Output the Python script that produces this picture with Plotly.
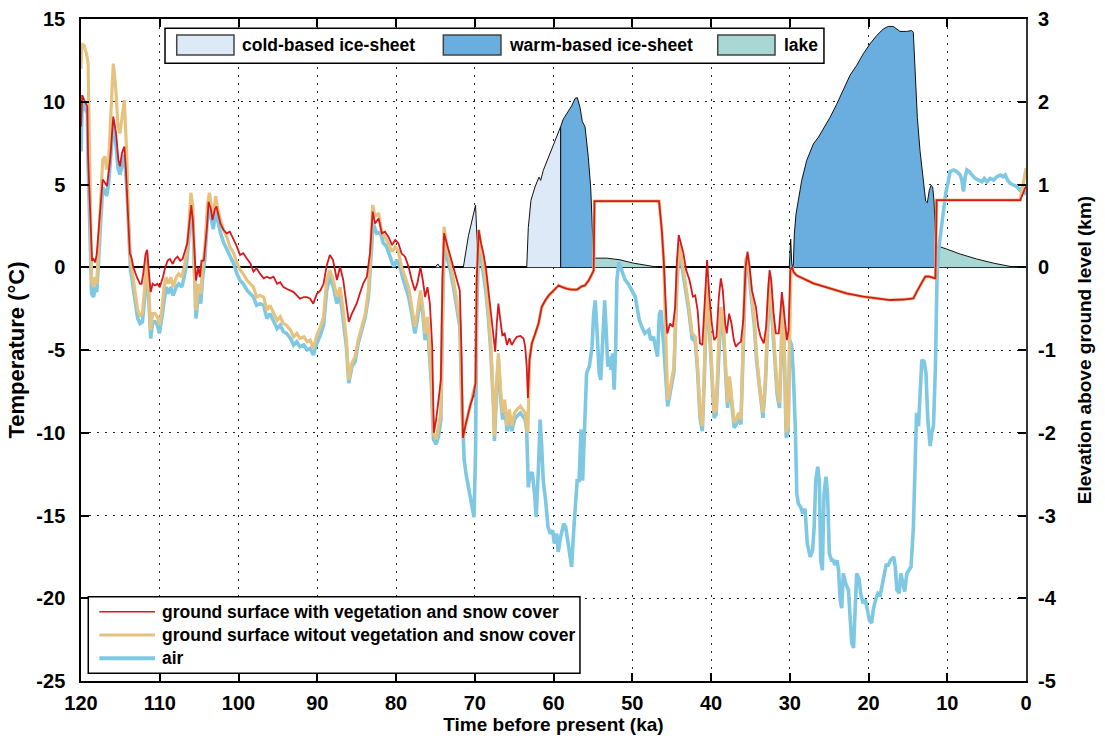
import plotly.graph_objects as go

# ---------------- data ----------------
x_ticks = [0, 10, 20, 30, 40, 50, 60, 70, 80, 90, 100, 110, 120]
temp_ticks = [-25, -20, -15, -10, -5, 0, 5, 10, 15]
temp_tick_text = ["-25", "-20", "-15", "-10", "-5", "0", "5", "10", "15"]
elev_ticks = [-5, -4, -3, -2, -1, 0, 1, 2, 3]
elev_tick_text = ["-5", "-4", "-3", "-2", "-1", "0", "1", "2", "3"]

# ground surface with vegetation and snow cover (ka, degC)
red = [
(120.0, 8.5), (119.85, 10.4), (119.5, 10.0), (119.2, 9.7), (119.1, 6.7), (118.9, 3.7), (118.6, 0.4),
(118.4, 0.5), (118.2, 0.3), (118.0, 0.8), (117.8, 2.05), (117.5, 3.7), (117.25, 5.3), (116.95, 5.1),
(116.7, 4.9), (116.3, 6.5), (115.9, 9.1), (115.55, 8.1), (115.26, 6.5), (115.05, 6.1), (114.8, 6.9),
(114.5, 7.3), (114.3, 5.9), (114.0, 2.85), (113.8, 0.84), (113.6, 0.6), (113.35, 0.0), (112.9, -0.6),
(112.5, -1.0), (112.3, -1.0), (112.1, -0.4), (111.8, 0.8), (111.6, 1.05), (111.4, -0.2), (111.15, -1.5),
(110.9, -1.0), (110.6, -1.1), (110.3, -1.0), (110.0, -1.2), (109.6, -0.6), (109.3, 0.0), (109.0, 0.4),
(108.7, 0.5), (108.35, 0.2), (108.05, 0.5), (107.75, 0.64), (107.4, 0.4), (107.1, 0.5), (106.7, 1.05),
(106.5, 1.45), (106.2, 2.85), (106.0, 3.76), (105.8, 2.85), (105.6, 1.05), (105.4, -0.8), (105.1, 0.0),
(104.9, -0.6), (104.7, 0.4), (104.4, 0.4), (104.0, 2.45), (103.8, 3.96), (103.5, 3.5), (103.3, 2.85),
(103.0, 3.5), (102.8, 3.67), (102.3, 2.65), (101.9, 2.25), (101.5, 2.05), (101.1, 2.15), (100.6, 1.65),
(100.2, 1.25), (99.8, 0.74), (99.4, 0.85), (98.9, 0.5), (98.5, 0.24), (98.1, -0.26), (97.7, -0.06),
(97.25, -0.4), (96.8, -0.67), (96.4, -0.57), (96.0, -0.67), (95.55, -0.57), (95.1, -1.0), (94.7, -0.9),
(94.3, -1.2), (93.9, -1.3), (93.4, -1.4), (93.0, -1.5), (92.6, -1.7), (92.2, -1.9), (91.7, -1.8),
(91.3, -1.8), (90.9, -1.9), (90.5, -2.2), (90.05, -1.6), (89.6, -1.4), (89.2, -1.0), (88.8, 0.1),
(88.4, 0.74), (88.0, 0.44), (87.5, -0.77), (87.1, 0.03), (86.7, -0.77), (86.3, -2.4), (86.0, -3.3),
(85.6, -2.8), (85.0, -2.2), (84.6, -1.6), (84.15, -0.97), (83.7, -0.57), (83.3, 0.84), (82.96, 3.36),
(82.66, 2.65), (82.2, 2.95), (81.8, 2.05), (81.4, 2.15), (80.97, 1.85), (80.5, 1.34), (80.1, 1.65),
(79.7, 1.45), (79.3, 0.84), (78.85, 0.64), (78.4, 0.03), (78.0, -0.77), (77.6, -1.4), (77.3, -1.0),
(76.9, 0.0), (76.6, -0.77), (76.3, -1.8), (76.0, -1.2), (75.7, -2.2), (75.4, -4.8), (75.2, -10.0),
(74.9, -9.2), (74.6, -8.0), (74.3, -6.8), (74.1, -0.77), (73.9, 2.05), (73.55, 1.44), (73.1, 0.64),
(72.7, 0.03), (72.3, -0.77), (71.9, -1.4), (71.7, -4.8), (71.5, -10.3), (71.2, -9.6), (70.9, -9.0),
(70.6, -8.4), (70.2, -7.8), (69.9, -7.0), (69.75, -0.8), (69.5, 2.25), (69.2, 1.44), (68.9, 0.84),
(68.55, -0.17), (68.25, -1.4), (67.95, -2.8), (67.6, -4.4), (67.4, -5.1), (67.2, -3.4), (67.0, -2.2),
(66.8, -3.0), (66.5, -4.1), (66.2, -4.0), (65.9, -4.7), (65.6, -4.3), (65.3, -4.7), (64.95, -4.4),
(64.65, -4.2), (64.2, -4.15), (63.8, -4.3), (63.6, -4.8), (63.4, -6.0), (63.25, -7.9), (63.05, -5.6),
(62.75, -4.6), (62.3, -4.0), (61.9, -3.4), (61.5, -2.4), (61.05, -2.0), (60.6, -1.7), (60.2, -1.5),
(59.8, -1.3), (59.35, -1.1), (58.9, -1.2), (58.3, -1.3), (57.7, -1.35), (57.0, -1.35), (56.4, -1.15),
(56.0, -1.1), (55.5, -0.77), (55.1, -0.4), (54.9, -0.2), (54.8, 4.0), (46.6, 4.0), (46.25, 2.25),
(46.0, 0.4), (45.7, -2.8), (45.55, -4.0), (45.2, -3.4), (44.85, -3.6), (44.55, -2.4), (44.34, 0.24),
(44.1, 1.95), (43.8, 1.44), (43.5, 0.84), (43.16, -0.17), (42.73, -0.77), (42.3, -1.78), (42.0, -1.7),
(41.7, -2.6), (41.4, -4.6), (41.1, -4.7), (40.85, -2.8), (40.5, 0.44), (40.2, -1.78), (39.9, -3.4),
(39.6, -4.4), (39.3, -4.2), (39.0, -1.78), (38.75, -0.67), (38.5, -1.4), (38.2, -3.4), (38.0, -4.0),
(37.7, -2.8), (37.4, -3.4), (37.1, -4.4), (36.85, -4.8), (36.5, -4.6), (36.2, -4.5), (35.9, -3.2),
(35.6, 0.03), (35.36, 0.94), (35.1, 0.03), (34.8, -1.4), (34.5, -2.0), (34.3, -2.4), (34.0, -3.6),
(33.7, -4.2), (33.3, -4.6), (33.0, -3.6), (32.77, -1.6), (32.56, -0.17), (32.35, -0.77), (32.05, -2.8),
(31.76, -4.0), (31.4, -4.0), (31.2, -2.8), (31.0, -1.5), (30.8, -2.4), (30.57, -3.6), (30.36, -4.4),
(30.15, -3.8), (29.93, -0.17), (29.7, 0.0), (29.5, -0.3), (29.1, -0.5), (27.0, -0.97), (24.9, -1.27),
(22.8, -1.58), (20.65, -1.78), (18.5, -1.88), (17.26, -1.98), (15.6, -1.95), (14.3, -1.88), (13.9, -1.5),
(13.4, -1.1), (12.8, -0.57), (12.4, -0.55), (11.5, -0.67), (11.35, 4.06), (0.73, 4.06), (0.0, 4.9),
]

# ground surface without vegetation and snow cover (ka, degC)
tan = [
(120.0, 12.0), (119.9, 13.5), (119.6, 13.4), (119.3, 12.9), (119.1, 12.3), (118.9, 6.9), (118.65, -0.8),
(118.4, -1.2), (118.2, -0.6), (118.0, -1.0), (117.8, 0.84), (117.5, 3.7), (117.25, 6.5), (116.95, 6.7),
(116.75, 5.9), (116.5, 6.3), (116.2, 9.3), (115.9, 12.3), (115.6, 10.9), (115.3, 8.5), (115.05, 8.1),
(114.75, 9.3), (114.5, 10.1), (114.2, 6.9), (113.9, 1.85), (113.7, 0.44), (113.5, -0.2), (113.1, -1.6),
(112.8, -2.6), (112.5, -2.9), (112.2, -2.8), (111.9, -1.2), (111.65, 0.84), (111.45, -0.9), (111.15, -3.8),
(110.9, -2.8), (110.6, -2.8), (110.3, -3.0), (110.05, -3.5), (109.75, -2.6), (109.45, -1.2), (109.2, -0.6),
(108.9, -1.0), (108.6, -0.6), (108.3, -1.2), (107.9, -0.6), (107.6, -0.4), (107.2, -0.6), (106.9, 0.0),
(106.6, 0.84), (106.3, 2.45), (106.05, 4.5), (105.8, 3.7), (105.6, -0.4), (105.4, -2.6), (105.1, -1.0),
(104.8, -1.6), (104.55, 0.0), (104.25, 1.25), (103.95, 3.7), (103.7, 4.5), (103.45, 3.7), (103.2, 3.06),
(102.9, 4.3), (102.7, 3.7), (102.3, 2.85), (101.9, 2.25), (101.5, 1.85), (101.1, 1.25), (100.6, 0.84),
(100.2, 0.24), (99.8, -0.16), (99.4, -0.4), (98.9, -0.8), (98.5, -1.0), (98.1, -1.2), (97.7, -1.8),
(97.25, -1.7), (96.8, -1.8), (96.4, -2.6), (96.0, -2.3), (95.55, -2.8), (95.1, -3.2), (94.7, -3.0),
(94.3, -3.4), (93.9, -3.5), (93.4, -3.8), (93.0, -4.2), (92.6, -4.0), (92.2, -4.3), (91.7, -4.2),
(91.3, -4.5), (90.9, -4.4), (90.5, -4.9), (90.05, -4.1), (89.6, -3.6), (89.2, -3.0), (88.8, -0.8),
(88.4, -0.17), (87.96, -0.8), (87.5, -1.78), (87.1, -1.2), (86.7, -2.6), (86.3, -4.4), (86.0, -6.8),
(85.6, -5.8), (85.2, -5.4), (84.8, -4.4), (84.4, -3.6), (83.9, -2.8), (83.5, -1.4), (83.3, 0.2),
(82.96, 3.76), (82.66, 3.06), (82.2, 3.26), (81.8, 2.05), (81.4, 1.85), (80.97, 1.44), (80.5, 0.94),
(80.1, 1.24), (79.7, 0.94), (79.3, 0.03), (78.85, -0.57), (78.4, -1.2), (78.0, -2.4), (77.6, -3.6),
(77.3, -2.8), (76.9, -1.4), (76.6, -2.4), (76.3, -4.0), (76.0, -3.0), (75.75, -4.6), (75.5, -6.8),
(75.25, -10.0), (74.9, -10.4), (74.6, -9.6), (74.3, -8.8), (74.1, -2.8), (73.9, 2.45), (73.55, 1.24),
(73.1, 0.24), (72.7, -0.77), (72.3, -2.0), (71.9, -3.2), (71.7, -6.8), (71.5, -10.3), (71.2, -9.6),
(70.9, -9.0), (70.6, -8.4), (70.2, -7.8), (69.9, -7.0), (69.75, -1.0), (69.5, 2.25), (69.2, 1.24),
(68.9, 0.24), (68.55, -1.2), (68.25, -2.8), (67.95, -4.8), (67.6, -8.4), (67.5, -10.2), (67.2, -6.8),
(67.0, -5.2), (66.7, -7.6), (66.45, -8.8), (66.2, -8.0), (65.9, -9.6), (65.6, -8.6), (65.3, -9.6),
(64.95, -8.8), (64.65, -8.6), (64.2, -8.4), (63.9, -8.6), (63.6, -8.8), (63.4, -9.8), (63.25, -10.0),
(63.05, -5.6), (62.75, -4.6), (62.3, -4.0), (61.9, -3.4), (61.5, -2.4), (61.05, -2.0), (60.6, -1.7),
(60.2, -1.5), (59.8, -1.3), (59.35, -1.1), (58.9, -1.2), (58.3, -1.3), (57.7, -1.35), (57.0, -1.35),
(56.4, -1.15), (56.0, -1.1), (55.5, -0.77), (55.1, -0.4), (54.9, -0.2), (54.8, 4.0), (46.6, 4.0),
(46.25, 2.25), (46.0, 0.4), (45.8, -3.2), (45.5, -8.0), (45.3, -7.6), (45.0, -6.8), (44.7, -6.0),
(44.34, -0.77), (44.05, 1.44), (43.7, 0.44), (43.3, -0.77), (42.86, -2.2), (42.4, -4.0), (42.0, -4.2),
(41.7, -6.0), (41.4, -8.8), (41.1, -9.6), (40.87, -6.8), (40.5, -0.77), (40.2, -3.4), (39.9, -6.8),
(39.6, -8.8), (39.35, -8.6), (39.05, -4.8), (38.75, -2.4), (38.4, -3.8), (38.1, -6.4), (37.9, -8.2),
(37.65, -6.6), (37.35, -7.8), (37.05, -9.4), (36.8, -9.2), (36.5, -8.8), (36.2, -9.2), (35.9, -4.8),
(35.6, 0.44), (35.36, 0.74), (35.1, -0.37), (34.8, -2.0), (34.5, -3.2), (34.2, -5.4), (33.75, -7.6),
(33.4, -8.8), (33.1, -6.8), (32.77, -2.4), (32.56, -0.57), (32.3, -2.4), (31.97, -4.8), (31.6, -7.4),
(31.3, -8.2), (31.08, -4.4), (30.9, -2.0), (30.7, -4.8), (30.45, -10.0), (30.2, -9.6), (30.0, -4.8),
(29.85, -0.17), (29.7, 0.0), (29.5, -0.3), (29.1, -0.5), (27.0, -0.97), (24.9, -1.27), (22.8, -1.58),
(20.65, -1.78), (18.5, -1.88), (17.26, -1.98), (15.6, -1.95), (14.3, -1.88), (13.9, -1.5), (13.4, -1.1),
(12.8, -0.57), (12.4, -0.55), (11.5, -0.67), (11.35, 4.06), (0.73, 4.06), (0.0, 6.0),
]

# air temperature (ka, degC)
air = [
(120.0, 7.0), (119.85, 10.0), (119.5, 9.6), (119.2, 9.3), (119.1, 6.3), (118.9, 2.0), (118.65, -1.6),
(118.4, -1.8), (118.2, -1.2), (118.0, -1.5), (117.8, 0.0), (117.5, 2.8), (117.25, 4.8), (116.95, 4.6),
(116.75, 4.3), (116.5, 5.0), (116.2, 7.0), (115.9, 8.7), (115.6, 7.6), (115.3, 6.0), (115.05, 5.6),
(114.75, 6.4), (114.5, 6.8), (114.2, 5.0), (113.9, 1.0), (113.7, -0.2), (113.5, -0.8), (113.1, -2.1),
(112.8, -3.1), (112.5, -3.4), (112.2, -3.3), (111.9, -1.8), (111.65, 0.3), (111.45, -1.4), (111.15, -4.3),
(110.9, -3.3), (110.6, -3.3), (110.3, -3.5), (110.05, -4.0), (109.75, -3.1), (109.45, -1.8), (109.2, -1.2),
(108.9, -1.6), (108.6, -1.2), (108.3, -1.7), (107.9, -1.2), (107.6, -1.0), (107.2, -1.2), (106.9, -0.6),
(106.6, 0.2), (106.3, 1.8), (106.05, 3.5), (105.8, 3.0), (105.6, -1.0), (105.4, -3.1), (105.1, -1.6),
(104.8, -2.2), (104.55, -0.6), (104.25, 0.6), (103.95, 3.0), (103.7, 3.6), (103.45, 2.9), (103.2, 2.3),
(102.9, 3.4), (102.7, 2.9), (102.3, 2.1), (101.9, 1.5), (101.5, 1.1), (101.1, 0.6), (100.6, 0.2),
(100.2, -0.4), (99.8, -0.8), (99.4, -1.0), (98.9, -1.4), (98.5, -1.6), (98.1, -1.8), (97.7, -2.3),
(97.25, -2.2), (96.8, -2.3), (96.4, -3.1), (96.0, -2.8), (95.55, -3.3), (95.1, -3.7), (94.7, -3.5),
(94.3, -3.9), (93.9, -4.0), (93.4, -4.3), (93.0, -4.7), (92.6, -4.5), (92.2, -4.8), (91.7, -4.7),
(91.3, -5.0), (90.9, -4.9), (90.5, -5.3), (90.05, -4.6), (89.6, -4.1), (89.2, -3.5), (88.8, -1.4),
(88.4, -0.57), (87.96, -1.2), (87.5, -2.2), (87.1, -1.6), (86.7, -3.0), (86.3, -4.8), (86.0, -7.0),
(85.6, -6.0), (85.2, -5.7), (84.8, -4.6), (84.4, -3.9), (83.9, -3.0), (83.5, -1.8), (83.2, 0.2),
(82.9, 2.65), (82.45, 2.05), (82.0, 2.1), (81.6, 1.45), (81.2, 1.25), (80.75, 0.64), (80.3, 0.03),
(79.9, 0.44), (79.5, 0.03), (79.06, -0.77), (78.4, -1.78), (78.0, -2.8), (77.6, -4.0), (77.3, -3.2),
(76.9, -1.8), (76.6, -2.8), (76.3, -4.4), (76.0, -3.4), (75.75, -5.0), (75.5, -7.2), (75.25, -10.4),
(74.9, -10.7), (74.6, -10.2), (74.3, -9.2), (74.1, -3.2), (73.9, 1.24), (73.55, 0.64), (73.1, -0.17),
(72.7, -1.2), (72.3, -2.4), (71.9, -3.6), (71.7, -7.2), (71.5, -10.4), (71.35, -11.6), (71.1, -12.5),
(70.8, -13.3), (70.5, -14.1), (70.25, -14.7), (70.1, -15.1), (69.9, -11.2), (69.75, -2.8), (69.5, 1.65),
(69.2, 0.64), (68.9, -0.37), (68.55, -1.6), (68.25, -3.2), (67.95, -5.2), (67.6, -8.6), (67.5, -10.5),
(67.2, -7.2), (67.0, -5.6), (66.7, -8.0), (66.45, -9.2), (66.2, -8.4), (65.9, -9.9), (65.6, -9.0),
(65.3, -9.9), (64.95, -9.2), (64.65, -9.0), (64.2, -8.8), (63.9, -9.0), (63.6, -9.2), (63.4, -9.9),
(63.2, -13.3), (62.97, -12.5), (62.7, -12.4), (62.4, -13.7), (62.2, -15.1), (61.9, -12.0), (61.7, -9.2),
(61.5, -10.8), (61.3, -12.9), (61.0, -14.1), (60.7, -15.7), (60.4, -16.1), (60.1, -15.9), (59.9, -16.7),
(59.6, -16.1), (59.4, -17.2), (59.1, -16.3), (58.7, -15.5), (58.45, -15.7), (58.2, -16.5), (57.9, -17.3),
(57.7, -18.1), (57.46, -16.1), (57.25, -14.5), (57.0, -12.9), (56.75, -12.9), (56.5, -9.8), (56.3, -12.9),
(56.0, -9.4), (55.8, -6.4), (55.45, -6.0), (55.1, -4.8), (54.9, -2.8), (54.7, -2.0), (54.5, -3.6),
(54.2, -6.4), (54.0, -6.8), (53.7, -4.4), (53.5, -2.0), (53.35, -3.4), (53.1, -6.0), (52.9, -5.4),
(52.7, -6.2), (52.5, -5.2), (52.3, -7.4), (52.1, -4.8), (51.95, -0.77), (51.7, 0.3), (51.2, -0.4),
(50.9, -0.77), (50.5, -1.0), (50.1, -1.4), (49.6, -1.8), (49.4, -2.4), (49.1, -3.2), (48.8, -3.6),
(48.4, -4.0), (47.9, -3.8), (47.65, -4.4), (47.3, -4.2), (47.0, -4.8), (46.8, -5.4), (46.55, -2.8),
(46.35, -2.6), (46.0, -4.8), (45.7, -6.8), (45.5, -8.4), (45.3, -7.9), (45.0, -7.1), (44.7, -6.3),
(44.34, -1.1), (44.05, 1.1), (43.7, 0.1), (43.3, -1.1), (42.86, -2.5), (42.4, -4.3), (42.0, -4.5),
(41.7, -6.3), (41.4, -9.1), (41.1, -9.9), (40.87, -7.1), (40.5, -1.1), (40.2, -3.7), (39.9, -7.1),
(39.6, -9.1), (39.35, -8.9), (39.05, -5.1), (38.75, -2.7), (38.4, -4.1), (38.1, -6.7), (37.9, -8.5),
(37.65, -6.9), (37.35, -8.1), (37.05, -9.7), (36.8, -9.5), (36.5, -9.1), (36.2, -9.5), (35.9, -5.1),
(35.6, 0.1), (35.36, 0.4), (35.1, -0.7), (34.8, -2.3), (34.5, -3.5), (34.2, -5.7), (33.75, -7.9),
(33.4, -9.1), (33.1, -7.1), (32.77, -2.7), (32.56, -0.9), (32.3, -2.7), (31.97, -5.1), (31.6, -7.7),
(31.3, -8.5), (31.08, -4.7), (30.9, -2.3), (30.7, -5.1), (30.45, -10.3), (30.2, -9.9), (30.0, -4.4),
(29.76, -4.7), (29.55, -6.4), (29.3, -9.6), (29.1, -13.7), (28.9, -14.3), (28.6, -14.5), (28.36, -14.9),
(28.06, -14.6), (27.77, -16.7), (27.4, -17.5), (27.1, -17.1), (26.9, -15.7), (26.7, -12.9), (26.45, -12.05),
(26.24, -12.9), (26.07, -17.7), (25.86, -18.3), (25.65, -13.7), (25.4, -12.65), (25.2, -13.7), (24.97, -17.3),
(24.7, -17.7), (24.5, -17.7), (24.25, -18.0), (24.0, -17.7), (23.8, -18.3), (23.6, -20.1), (23.4, -20.6),
(23.2, -18.5), (22.9, -19.1), (22.55, -19.5), (22.35, -21.3), (22.13, -22.7), (21.9, -23.0), (21.7, -20.7),
(21.5, -18.5), (21.2, -18.8), (21.0, -19.7), (20.7, -20.3), (20.4, -20.1), (20.14, -20.7), (19.9, -21.3),
(19.6, -21.5), (19.4, -20.7), (19.1, -20.1), (18.8, -19.7), (18.5, -19.8), (18.2, -19.1), (18.0, -18.7),
(17.77, -18.0), (17.5, -18.0), (17.2, -17.7), (16.8, -17.5), (16.6, -18.1), (16.4, -19.5), (16.1, -19.7),
(15.9, -18.5), (15.65, -19.1), (15.4, -19.6), (15.14, -18.5), (14.84, -18.3), (14.6, -18.1), (14.3, -15.7),
(14.08, -11.6), (13.9, -8.8), (13.65, -9.6), (13.45, -7.6), (13.23, -5.6), (12.94, -5.7), (12.7, -6.4),
(12.47, -9.2), (12.17, -10.8), (11.96, -10.0), (11.75, -9.6), (11.5, -6.0), (11.3, -0.57), (11.1, 1.04),
(10.9, 1.85), (10.7, 2.65), (10.5, 3.46), (10.2, 4.47), (9.93, 5.07), (9.63, 5.78), (9.2, 5.88),
(8.8, 5.78), (8.36, 5.58), (8.15, 5.27), (7.94, 4.57), (7.72, 5.47), (7.5, 5.88), (7.2, 5.78),
(6.87, 5.58), (6.45, 5.37), (6.03, 5.27), (5.6, 5.17), (5.3, 5.37), (4.97, 5.17), (4.55, 5.37),
(4.12, 5.27), (3.7, 5.47), (3.27, 5.57), (2.93, 5.47), (2.64, 5.57), (2.34, 5.27), (2.0, 5.07),
(1.58, 4.97), (1.15, 4.87), (0.82, 4.67), (0.52, 4.77), (0.1, 4.47), (0.0, 4.5),
]

# ice sheet / lake elevation outlines (ka, km above ground)
cold_ice_1 = [(75.0, 0.0), (74.7, 0.04), (74.4, 0.0)]
cold_ice_2 = [(71.45, 0.0), (70.8, 0.38), (69.9, 0.75), (69.55, 0.0)]
cold_ice_3 = [(63.4, 0.0), (63.2, 0.48), (62.86, 0.81), (62.35, 0.97), (61.84, 1.09), (61.63, 1.05),
              (61.3, 1.17), (60.66, 1.33), (60.03, 1.49), (59.47, 1.63), (59.09, 1.70), (59.09, 0.0)]
warm_ice_1 = [(59.09, 0.0), (59.09, 1.70), (58.76, 1.79), (58.12, 1.89), (57.69, 1.95), (57.27, 2.04),
              (56.98, 2.05), (56.63, 1.93), (56.34, 1.76), (56.0, 1.70), (55.58, 1.33), (55.28, 0.97),
              (55.02, 0.48), (54.86, 0.0)]
warm_ice_2 = [(30.06, 0.0), (29.88, 0.34), (29.75, 0.05), (29.63, 0.0), (29.55, 0.02), (29.42, 0.40),
              (29.21, 0.64), (28.91, 0.80), (28.48, 1.05), (27.85, 1.29), (27.01, 1.49), (26.37, 1.57),
              (25.74, 1.67), (24.89, 1.81), (24.04, 1.97), (23.2, 2.14), (22.35, 2.32), (21.5, 2.44),
              (20.66, 2.58), (19.81, 2.70), (18.96, 2.80), (18.12, 2.88), (17.49, 2.91), (16.85, 2.91),
              (16.42, 2.88), (16.0, 2.85), (15.15, 2.85), (14.51, 2.86), (14.31, 2.84), (14.1, 2.42),
              (13.8, 1.81), (13.46, 1.41), (13.04, 1.01), (12.74, 0.80), (12.53, 0.78), (12.28, 0.93),
              (12.06, 0.99), (11.85, 0.97), (11.68, 0.80), (11.47, 0.40), (11.34, 0.0)]
lake_1 = [(54.86, 0.0), (54.86, 0.11), (53.24, 0.11), (51.56, 0.09), (49.87, 0.05), (48.17, 0.02), (46.73, 0.0)]
lake_2 = [(11.34, 0.0), (11.34, 0.26), (10.07, 0.22), (8.38, 0.16), (6.26, 0.10), (4.15, 0.05),
          (2.03, 0.01), (0.76, 0.0)]

series_names = ["ground surface with vegetation and snow cover",
                "ground surface witout vegetation and snow cover",
                "air"]
area_names = ["cold-based ice-sheet", "warm-based ice-sheet", "lake"]

# ---------------- style ----------------
RED = "#d7191c"
TAN = "#e6c27f"
BLUE = "#7ec8e3"
COLD = "#dde9f7"
WARM = "#6aaee0"
LAKE = "#a9d8d4"
FONT = "Liberation Sans"

def unzip(pts):
    return [p[0] for p in pts], [p[1] for p in pts]

fig = go.Figure()

# areas on the elevation axis (drawn underneath)
for pts, col, nm in [(cold_ice_1, COLD, area_names[0]), (cold_ice_2, COLD, area_names[0]),
                     (cold_ice_3, COLD, area_names[0]), (warm_ice_1, WARM, area_names[1]),
                     (warm_ice_2, WARM, area_names[1]), (lake_1, LAKE, area_names[2]),
                     (lake_2, LAKE, area_names[2])]:
    xs, ys = unzip(pts)
    fig.add_trace(go.Scatter(x=xs, y=ys, yaxis="y", fill="toself", fillcolor=col, mode="lines",
                             line=dict(color="#111111", width=1), name=nm, showlegend=False,
                             hoverinfo="skip"))

# temperature lines on the temperature axis (overlay, drawn on top)
for pts, col, w, nm in [(air, BLUE, 3.6, series_names[2]), (tan, TAN, 3.2, series_names[1]),
                        (red, RED, 1.8, series_names[0])]:
    xs, ys = unzip(pts)
    fig.add_trace(go.Scatter(x=xs, y=ys, yaxis="y2", mode="lines",
                             line=dict(color=col, width=w), name=nm, showlegend=False))

tickfont = dict(family=FONT, size=20, color="black", weight="bold")
titlefont = dict(family=FONT, size=19, color="black", weight="bold")
lefttitlefont = dict(family=FONT, size=22, color="black", weight="bold")
grid = dict(showgrid=True, gridcolor="#222222", gridwidth=1, griddash="2px,6px")

fig.update_layout(
    width=1105, height=738,
    margin=dict(l=81, r=79, t=19, b=57, autoexpand=False),
    paper_bgcolor="white", plot_bgcolor="white",
    showlegend=False,
    xaxis=dict(range=[120, 0], tickmode="array", tickvals=x_ticks, ticks="inside", ticklen=8,
               tickwidth=1.5, tickcolor="black", showline=True, linecolor="black", linewidth=1.5,
               mirror="ticks", zeroline=False, tickfont=tickfont, ticklabelstandoff=3, automargin=False,
               title=dict(text="Time before present (ka)", font=titlefont, standoff=4), **grid),
    yaxis=dict(range=[-5, 3], side="right", tickmode="array", tickvals=elev_ticks, ticktext=elev_tick_text,
               ticks="inside", ticklen=8, tickwidth=1.5, tickcolor="black", showline=True,
               linecolor="#333333", linewidth=2, zeroline=True, zerolinecolor="black", zerolinewidth=2,
               tickfont=tickfont, ticklabelstandoff=6, automargin=False,
               title=dict(text="Elevation above ground level (km)", font=titlefont, standoff=22), **grid),
    yaxis2=dict(range=[-25, 15], side="left", overlaying="y", tickmode="array", tickvals=temp_ticks,
                ticktext=temp_tick_text, ticks="inside", ticklen=8, tickwidth=1.5, tickcolor="black",
                showline=True, linecolor="black", linewidth=1.5, showgrid=False, zeroline=False,
                tickfont=tickfont, ticklabelstandoff=10, automargin=False,
                title=dict(text="Temperature (°C)", font=lefttitlefont, standoff=6)),
)

# ---------------- legends (drawn as boxes in paper coordinates) ----------------
legfont = dict(family=FONT, size=17.5, color="black", weight="bold")
shapes = []
annotations = []
# top legend
shapes.append(dict(type="rect", xref="paper", yref="paper", x0=0.0889, x1=0.7862, y0=0.9331, y1=0.9860,
                   line=dict(color="black", width=1.5), fillcolor="white", layer="above"))
for (x0, x1, tx), col, nm in zip([(0.1013, 0.1619, 0.1683), (0.3834, 0.4444, 0.4505), (0.6738, 0.7344, 0.7415)],
                                 [COLD, WARM, LAKE], area_names):
    shapes.append(dict(type="rect", xref="paper", yref="paper", x0=x0, x1=x1, y0=0.9456, y1=0.9758,
                       line=dict(color="#444444", width=1.5), fillcolor=col, layer="above"))
    annotations.append(dict(xref="paper", yref="paper", x=tx, y=0.9605, text=nm, showarrow=False,
                            xanchor="left", yanchor="middle", font=legfont))
# bottom legend
shapes.append(dict(type="rect", xref="paper", yref="paper", x0=0.0077, x1=0.5280, y0=0.0116, y1=0.1273,
                   line=dict(color="black", width=1.5), fillcolor="white", layer="above"))
for yy, col, w, nm in zip([0.1047, 0.0695, 0.0343], [RED, TAN, BLUE], [1.5, 3, 4], series_names):
    shapes.append(dict(type="line", xref="paper", yref="paper", x0=0.0194, x1=0.0783, y0=yy, y1=yy,
                       line=dict(color=col, width=w), layer="above"))
    annotations.append(dict(xref="paper", yref="paper", x=0.0836, y=yy, text=nm, showarrow=False,
                            xanchor="left", yanchor="middle", font=legfont))
fig.update_layout(shapes=shapes, annotations=annotations)

fig.write_html("out.html")
